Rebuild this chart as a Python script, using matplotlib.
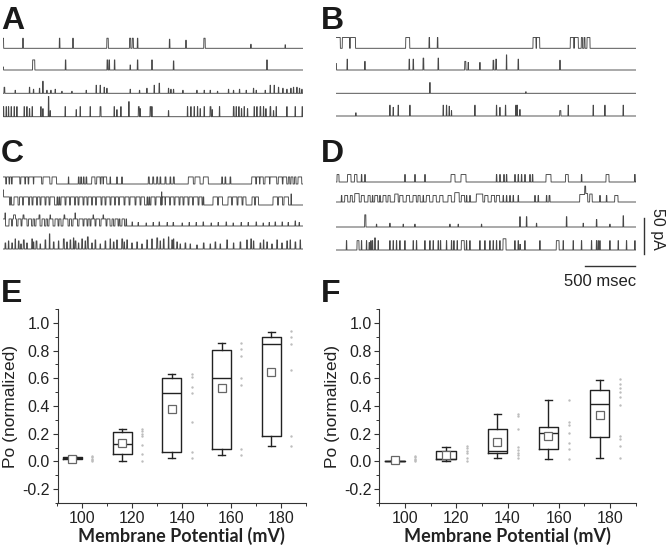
import numpy as np
import matplotlib
matplotlib.use("Agg")
import matplotlib.pyplot as plt
from matplotlib.ticker import MultipleLocator

W, H = 666, 552
plt.rcParams['font.family'] = ['Liberation Sans', 'DejaVu Sans']

# ---------------- single-channel traces: events as (start ms, duration ms, amplitude in unit openings)
A1 = [(0, 6, 1), (197, 6, 1), (563, 6, 1), (697, 6, 1), (1038, 15, 1), (1265, 12, 1), (1292, 12, 1),
      (1343, 6, 1), (1663, 6, 0.9), (1827, 6, 0.8), (2008, 14, 1), (2477, 5, 0.4), (2820, 5, 0.35)]
A2 = [(0, 5, 0.3), (296, 22, 1), (623, 6, 1), (1040, 8, 1), (1060, 6, 1), (1113, 6, 1), (1270, 5, 0.5),
      (1343, 6, 1), (1487, 6, 1), (1703, 6, 0.9), (2637, 6, 1)]
A3 = [(10, 8, 0.6), (120, 5, 0.3), (263, 5, 0.6), (303, 5, 0.4), (363, 5, 0.5), (397, 5, 1.2), (437, 5, 0.3),
      (477, 5, 0.3), (520, 5, 0.4), (587, 5, 0.2), (687, 5, 0.2), (830, 5, 0.3), (930, 5, 0.8), (970, 5, 0.8),
      (1010, 5, 0.6), (1037, 5, 0.5), (1270, 5, 0.4), (1363, 5, 0.3), (1437, 5, 0.5), (1510, 5, 0.8),
      (1560, 6, 1.0), (1653, 5, 0.5), (1677, 5, 0.4), (1703, 5, 0.4), (1797, 5, 0.3), (1937, 5, 0.3),
      (2010, 5, 0.3), (2070, 5, 0.3), (2143, 5, 0.2), (2253, 5, 0.4), (2303, 5, 0.3), (2363, 5, 0.4),
      (2430, 5, 0.3), (2503, 5, 0.5), (2530, 5, 0.3), (2620, 5, 0.3), (2670, 5, 0.8), (2710, 5, 0.8),
      (2753, 5, 0.6), (2797, 5, 0.5), (2837, 5, 0.4), (2877, 5, 0.5), (2903, 5, 0.6), (2937, 5, 0.6),
      (2963, 5, 0.5), (2987, 5, 0.4)]
A4 = [(3, 5, 1), (30, 5, 1), (53, 5, 1), (80, 5, 1), (110, 5, 1), (137, 5, 1), (210, 5, 1), (237, 5, 1),
      (263, 5, 0.8), (290, 5, 1), (377, 5, 1), (397, 5, 0.8), (453, 6, 2), (470, 5, 0.6), (620, 5, 1),
      (730, 5, 0.7), (770, 5, 1), (870, 5, 1), (970, 10, 1), (1110, 5, 1), (1137, 5, 0.7), (1177, 5, 1),
      (1257, 5, 1.5), (1353, 10, 1), (1370, 5, 0.8), (1470, 10, 1), (1487, 5, 1), (1653, 5, 0.6),
      (1843, 5, 1), (1877, 5, 1), (1910, 5, 1), (1943, 5, 1), (1970, 5, 0.8), (2010, 5, 1), (2070, 10, 1),
      (2090, 5, 0.7), (2163, 5, 1), (2303, 8, 1), (2330, 5, 1), (2357, 5, 1), (2383, 5, 0.8), (2410, 5, 1),
      (2443, 5, 0.8), (2510, 5, 1), (2537, 5, 1), (2570, 8, 1), (2603, 5, 1), (2627, 5, 0.8), (2670, 8, 1),
      (2703, 5, 0.6), (2730, 5, 1), (2837, 5, 1), (2920, 5, 1), (2990, 5, 1)]

B1 = [(0, 43, 1), (63, 73, 1), (143, 52, 1), (697, 40, 1), (930, 6, 1), (1013, 6, 1), (1970, 30, 1),
      (2005, 32, 1), (2343, 35, 1), (2383, 40, 1), (2453, 12, 1), (2480, 10, 1), (2510, 30, 1)]
B2 = [(0, 5, 0.6), (110, 5, 1), (287, 5, 0.8), (730, 6, 1), (770, 6, 1), (870, 8, 1.1), (1020, 6, 1.1),
      (1287, 12, 0.8), (1320, 5, 0.7), (1437, 5, 0.7), (1570, 8, 0.9), (1597, 8, 1), (1703, 5, 1.4),
      (1820, 6, 1), (2237, 6, 0.9)]
B3 = [(937, 5, 1.0), (1897, 4, 0.15)]
B4 = [(197, 4, 0.3), (537, 5, 1), (570, 5, 0.8), (620, 5, 1), (737, 5, 1), (1070, 5, 1), (1103, 5, 1),
      (1130, 5, 0.9), (1153, 4, 0.5), (1387, 5, 1), (1603, 5, 1), (1637, 5, 0.8), (1693, 5, 1), (1797, 5, 1),
      (1810, 5, 1), (1837, 5, 0.6), (2237, 12, 0.5), (2320, 5, 1), (2570, 5, 1), (2687, 5, 1), (2870, 5, 1)]

C1 = [(0, 27, 0.7), (35, 25, 0.7), (67, 18, 0.7), (92, 76, 0.7), (178, 40, 0.7), (225, 26, 0.7), (258, 45, 0.7),
      (308, 78, 0.7), (400, 68, 0.7), (490, 45, 0.7), (653, 5, 0.7), (753, 8, 0.7), (777, 8, 0.7),
      (803, 8, 0.7), (830, 8, 0.7), (887, 33, 0.7), (937, 35, 0.7), (980, 20, 0.7), (1005, 32, 0.7),
      (1070, 6, 0.7), (1137, 6, 0.7), (1187, 6, 0.7), (1453, 10, 0.7), (1497, 10, 0.7), (1537, 10, 0.7),
      (1570, 8, 0.7), (1620, 10, 0.7), (1670, 8, 0.7), (1703, 10, 0.7), (1853, 50, 0.7), (1920, 50, 0.7),
      (2003, 50, 0.7), (2187, 8, 0.7), (2220, 8, 0.7), (2270, 8, 0.7), (2487, 40, 0.7), (2535, 30, 0.7),
      (2570, 33, 0.7), (2620, 45, 0.7), (2670, 67, 0.7), (2753, 40, 0.7), (2800, 37, 0.7), (2853, 15, 0.7),
      (2880, 20, 0.7), (2915, 15, 0.7), (2950, 37, 0.7)]
C2 = [(0, 5, 1.5), (5, 60, 0.8), (75, 10, 0.8), (110, 40, 0.8), (165, 30, 0.8), (205, 50, 0.8), (265, 25, 0.8),
      (300, 35, 0.8), (345, 25, 0.8), (380, 40, 0.8), (430, 30, 0.8), (470, 45, 0.8), (540, 8, 0.8),
      (560, 8, 0.8), (580, 40, 0.8), (630, 35, 0.8), (675, 40, 0.8), (725, 25, 0.8), (760, 40, 0.8),
      (810, 30, 0.8), (850, 35, 0.8), (895, 30, 0.8), (935, 45, 0.8), (990, 30, 0.8), (1030, 40, 0.8),
      (1080, 35, 0.8), (1125, 30, 0.8), (1165, 45, 0.8), (1220, 40, 0.8), (1270, 50, 0.8), (1330, 40, 0.8),
      (1380, 35, 0.8), (1440, 8, 0.8), (1460, 8, 0.8), (1480, 40, 0.8), (1530, 45, 0.8), (1585, 4, 1.3),
      (1590, 30, 0.8), (1625, 40, 0.8), (1675, 35, 0.8), (1720, 40, 0.8), (1770, 30, 0.8), (1810, 40, 0.8),
      (1860, 35, 0.8), (1905, 45, 0.8), (1960, 30, 0.8), (2000, 8, 0.8), (2100, 45, 0.8), (2155, 40, 0.8),
      (2250, 35, 0.8), (2295, 45, 0.8), (2350, 40, 0.8), (2400, 30, 0.8), (2490, 25, 0.8), (2525, 30, 0.8),
      (2700, 45, 0.8), (2755, 40, 0.8), (2810, 45, 0.8), (2880, 4, 1.1)]
C3 = [(0, 25, 0.7), (20, 4, 0.6), (60, 25, 0.7), (95, 40, 0.7), (105, 20, 0.4), (150, 30, 0.7), (190, 50, 0.7),
      (200, 10, 0.4), (255, 30, 0.7), (300, 15, 0.7), (330, 40, 0.7), (360, 10, 0.4), (390, 25, 0.7),
      (430, 15, 0.7), (460, 40, 0.7), (470, 5, 0.4), (520, 30, 0.7), (560, 20, 0.7), (600, 50, 0.7),
      (610, 8, 0.4), (665, 20, 0.7), (700, 45, 0.7), (720, 4, 0.6), (760, 40, 0.7), (810, 30, 0.7),
      (850, 20, 0.7), (880, 40, 0.7), (900, 6, 0.4), (930, 35, 0.7), (980, 50, 0.7), (1000, 6, 0.4),
      (1040, 30, 0.7), (1090, 15, 0.7), (1120, 30, 0.7), (1160, 10, 0.7), (1190, 25, 0.7), (1230, 6, 0.7),
      (1290, 5, 0.4), (1350, 5, 0.35), (1430, 5, 0.3), (1500, 5, 0.35), (1560, 6, 0.4), (1640, 5, 0.35),
      (1700, 6, 0.35), (1790, 5, 0.3), (1860, 5, 0.35), (1930, 5, 0.35), (2000, 6, 0.4), (2080, 5, 0.3),
      (2150, 5, 0.35), (2230, 6, 0.4), (2300, 5, 0.3), (2380, 5, 0.35), (2450, 5, 0.35), (2530, 6, 0.4),
      (2600, 5, 0.3), (2660, 5, 0.35), (2720, 6, 0.4), (2790, 5, 0.4), (2850, 5, 0.35), (2920, 6, 0.5),
      (2960, 5, 0.35)]
C4 = [(20, 8, 0.6), (53, 6, 0.8), (87, 8, 0.6), (120, 6, 1), (153, 8, 0.8), (177, 6, 0.5), (203, 10, 0.9),
      (237, 6, 0.6), (287, 8, 1), (303, 6, 0.7), (330, 10, 0.8), (370, 6, 0.5), (420, 8, 0.9), (463, 6, 1.5),
      (503, 8, 0.7), (553, 6, 0.8), (603, 10, 1), (637, 6, 0.7), (670, 8, 0.9), (703, 6, 1.1), (720, 10, 0.8),
      (753, 6, 0.6), (787, 8, 1), (820, 6, 0.8), (843, 10, 1.2), (887, 6, 0.6), (920, 8, 0.9), (970, 6, 0.5),
      (1020, 8, 0.8), (1070, 6, 1), (1103, 8, 0.7), (1137, 6, 0.9), (1187, 10, 1), (1210, 6, 0.7),
      (1237, 8, 0.9), (1287, 6, 0.6), (1337, 8, 0.7), (1387, 6, 0.5), (1437, 8, 0.9), (1487, 6, 1),
      (1537, 10, 1.1), (1570, 6, 0.8), (1603, 8, 1), (1653, 6, 1.2), (1687, 8, 0.9), (1703, 6, 1),
      (1737, 8, 0.7), (1770, 6, 0.5), (1820, 8, 0.6), (1870, 6, 0.5), (1937, 6, 0.4), (2003, 8, 0.6),
      (2070, 6, 0.5), (2120, 8, 0.7), (2170, 6, 0.5), (2237, 8, 0.9), (2303, 6, 0.6), (2370, 8, 0.7),
      (2437, 6, 0.9), (2477, 8, 1), (2503, 6, 0.8), (2570, 8, 0.6), (2603, 6, 0.9), (2637, 8, 0.7),
      (2687, 6, 0.5), (2737, 8, 0.9), (2787, 6, 0.6), (2837, 8, 0.8), (2870, 6, 0.9), (2920, 8, 0.7),
      (2970, 6, 0.9)]

D1 = [(10, 20, 0.8), (115, 35, 0.8), (185, 25, 0.8), (253, 6, 0.8), (287, 6, 0.8), (687, 6, 0.8), (787, 6, 0.8),
      (887, 6, 0.8), (1150, 40, 0.8), (1250, 50, 0.8), (1603, 6, 0.8), (1637, 6, 0.8), (1677, 6, 0.8),
      (1703, 6, 0.8), (1787, 6, 0.8), (1820, 6, 0.8), (1853, 6, 0.8), (1887, 6, 0.8), (1937, 6, 0.8),
      (1963, 6, 0.8), (2100, 50, 0.8), (2295, 28, 0.8), (2453, 6, 0.8), (2700, 30, 0.8), (2985, 8, 0.8)]
D2 = [(53, 6, 0.7), (87, 30, 0.7), (143, 20, 0.7), (187, 45, 0.9), (253, 30, 0.7), (320, 22, 0.7), (363, 6, 0.7),
      (387, 30, 0.7), (437, 6, 0.7), (470, 30, 0.7), (520, 22, 0.7), (587, 35, 0.85), (637, 33, 0.7),
      (703, 33, 0.7), (770, 33, 0.7), (820, 22, 0.7), (870, 6, 0.7), (903, 33, 0.7), (970, 33, 0.7),
      (1037, 33, 0.7), (1120, 33, 0.7), (1187, 45, 1.0), (1253, 33, 0.7), (1303, 6, 0.7), (1337, 6, 0.7),
      (1403, 65, 0.85), (1487, 33, 0.7), (1553, 33, 0.7), (1603, 33, 0.7), (1670, 6, 0.7), (1703, 6, 0.7),
      (1737, 6, 0.7), (1770, 6, 0.7), (1820, 6, 0.7), (1987, 6, 0.7), (2020, 6, 0.7), (2103, 6, 0.7),
      (2130, 10, 0.7), (2437, 60, 0.8), (2487, 30, 0.9), (2537, 25, 0.85), (2637, 6, 0.7), (2703, 6, 0.7),
      (2787, 33, 0.7)]
D3 = [(287, 12, 1.3), (403, 5, 0.3), (537, 5, 0.4), (670, 5, 0.3), (787, 5, 0.3), (1137, 5, 0.3), (1220, 5, 0.3),
      (1453, 5, 0.3), (1837, 6, 1.1), (1903, 6, 1.1), (2003, 5, 0.4), (2303, 6, 1.1), (2470, 5, 0.4),
      (2603, 6, 0.8), (2737, 5, 0.3), (2870, 6, 1.2)]
D4 = [(103, 5, 1), (210, 20, 1), (253, 5, 1), (303, 5, 1), (330, 5, 0.8), (347, 5, 1), (363, 5, 1), (387, 6, 1.3),
      (420, 5, 1), (537, 5, 1), (570, 5, 1), (603, 5, 1), (637, 5, 1), (687, 5, 1), (770, 5, 1), (803, 5, 1),
      (887, 5, 1), (937, 5, 1), (970, 5, 1), (1020, 5, 1), (1043, 5, 1), (1103, 5, 1), (1153, 5, 1),
      (1177, 5, 1), (1210, 5, 1), (1253, 30, 1), (1303, 5, 1), (1337, 5, 1), (1437, 5, 1), (1487, 5, 1),
      (1537, 5, 1), (1570, 5, 1), (1603, 5, 1), (1637, 5, 1), (1670, 30, 1.2), (1787, 5, 1), (1820, 5, 1),
      (1837, 8, 0.6), (1887, 5, 1), (2037, 5, 1), (2203, 28, 1), (2270, 5, 1), (2370, 5, 1), (2453, 5, 1),
      (2553, 5, 1), (2603, 5, 1), (2620, 5, 1), (2637, 5, 1), (2737, 5, 1), (2820, 5, 1), (2903, 5, 1),
      (2987, 5, 1)]

# ---------------- Po box plot data (normalized)
voltages = [100, 120, 140, 160, 180]
E_stats = [  # q1, median, q3, whislo, whishi, mean
    (0.017, 0.024, 0.032, 0.015, 0.04, 0.018),
    (0.053, 0.125, 0.21, 0.003, 0.237, 0.136),
    (0.065, 0.497, 0.605, 0.022, 0.631, 0.378),
    (0.089, 0.602, 0.806, 0.046, 0.856, 0.53),
    (0.184, 0.849, 0.899, 0.108, 0.935, 0.648),
]
E_points = [
    [0.0, 0.01, 0.02, 0.03, 0.04],
    [0.237, 0.22, 0.20, 0.184, 0.122, 0.055, 0.003],
    [0.634, 0.609, 0.538, 0.495, 0.287, 0.065, 0.022],
    [0.856, 0.808, 0.76, 0.605, 0.552, 0.089, 0.046],
    [0.94, 0.90, 0.849, 0.657, 0.184, 0.108],
]
F_stats = [
    (0.0, 0.002, 0.005, 0.0, 0.01, 0.012),
    (0.016, 0.02, 0.077, 0.001, 0.106, 0.047),
    (0.059, 0.073, 0.231, 0.025, 0.34, 0.14),
    (0.087, 0.202, 0.252, 0.018, 0.441, 0.185),
    (0.173, 0.412, 0.513, 0.027, 0.591, 0.336),
]
F_points = [
    [0.0, 0.01, 0.02, 0.03, 0.04],
    [0.111, 0.095, 0.077, 0.063, 0.023, 0.006],
    [0.345, 0.331, 0.231, 0.102, 0.082, 0.063, 0.044, 0.025],
    [0.441, 0.281, 0.262, 0.207, 0.13, 0.087, 0.018],
    [0.597, 0.56, 0.53, 0.50, 0.465, 0.41, 0.183, 0.163, 0.11, 0.027],
]

fig = plt.figure(figsize=(W / 100, H / 100), dpi=100)


def px_axes(x0, y0, x1, y1):
    return fig.add_axes([x0 / W, 1 - y1 / H, (x1 - x0) / W, (y1 - y0) / H])


PA_PER_PX = 50 / 36.0
t = np.arange(0, 3001, 1.0)


def draw_traces(ax, traces, baselines_px, y_bottom, unit_pa):
    for ev, base in zip(traces, baselines_px):
        y = np.zeros_like(t)
        for s, d, a in ev:
            y[(t >= s) & (t < s + d)] += a
        off = (y_bottom - base) * PA_PER_PX
        ax.plot(t, off + y * unit_pa, color='#484848', lw=0.65)


panels = [
    ('A', (3, 30, 303, 125), [A1, A2, A3, A4], [48.3, 70, 93.3, 116.7], 14),
    ('B', (336, 30, 636, 125), [B1, B2, B3, B4], [48.3, 70, 93.3, 116], 15),
    ('C', (3, 165, 303, 260), [C1, C2, C3, C4], [184, 205, 226, 249], 14),
    ('D', (336, 165, 636, 260), [D1, D2, D3, D4], [182, 202, 227, 250], 13),
]
trace_axes = {}
for name, (x0, y0, x1, y1), trs, bases, unit in panels:
    ax = px_axes(x0, y0, x1, y1)
    draw_traces(ax, trs, bases, y1, unit)
    ax.set_xlim(0, 3000)
    ax.set_ylim(0, (y1 - y0) * PA_PER_PX)
    ax.axis('off')
    trace_axes[name] = ax

# scale bars on panel D
axd = trace_axes['D']
bar_y = (260 - 266) * PA_PER_PX
axd.plot([2490, 2990], [bar_y, bar_y], color='#333333', lw=1, clip_on=False)
axd.plot([3080, 3080], [(260 - 254) * PA_PER_PX, (260 - 254) * PA_PER_PX + 50], color='#333333', lw=1,
         clip_on=False)
fig.text(657 / W, 1 - 229 / H, '50 pA', rotation=270, ha='center', va='center', fontsize=11.5, color='#222222')
fig.text(600 / W, 1 - 281 / H, '500 msec', ha='center', va='center', fontsize=12, color='#222222')


def box_panel(ax, stats, points):
    bs = []
    for (q1, med, q3, lo, hi, mean) in stats:
        bs.append(dict(q1=q1, med=med, q3=q3, whislo=lo, whishi=hi, mean=mean, fliers=[]))
    pos = [v - 4 for v in voltages]
    ax.bxp(bs, positions=pos, widths=7.6, showmeans=True, showfliers=False, capwidths=2.8,
           boxprops=dict(color='#222222', lw=1),
           medianprops=dict(color='#222222', lw=1),
           whiskerprops=dict(color='#222222', lw=1),
           capprops=dict(color='#222222', lw=1),
           meanprops=dict(marker='s', markerfacecolor='white', markeredgecolor='#666666', markersize=6,
                          markeredgewidth=0.9))
    for v, pts in zip(voltages, points):
        ax.scatter([v + 4] * len(pts), pts, s=3, color='#bdbdbd', zorder=3, linewidths=0)
    ax.set_xlim(90, 190)
    ax.set_ylim(-0.3, 1.1)
    ax.xaxis.set_minor_locator(MultipleLocator(10))
    ax.set_xticks(voltages)
    ax.set_xticklabels([str(v) for v in voltages])
    ax.set_yticks([-0.2, 0.0, 0.2, 0.4, 0.6, 0.8, 1.0])
    ax.set_yticklabels(['-0.2', '0.0', '0.2', '0.4', '0.6', '0.8', '1.0'])
    ax.yaxis.set_minor_locator(MultipleLocator(0.1))
    for s in ['top', 'right']:
        ax.spines[s].set_visible(False)
    for s in ['left', 'bottom']:
        ax.spines[s].set_color('#333333')
        ax.spines[s].set_linewidth(0.8)
    ax.tick_params(which='major', direction='out', length=3.5, width=0.8, color='#333333', labelsize=11.5,
                   pad=2, labelcolor='#222222')
    ax.tick_params(which='minor', direction='out', length=2, width=0.7, color='#333333')
    ax.set_ylabel('Po (normalized)', fontsize=12.5, color='#222222', labelpad=3)
    ax.set_xlabel('Membrane Potential (mV)', fontsize=13, fontweight='bold', family=['Lato', 'DejaVu Sans'],
                  color='#222222', labelpad=1)


axE = px_axes(57.5, 309, 306, 503)
box_panel(axE, E_stats, E_points)
axF = px_axes(379.5, 309, 635.5, 503)
box_panel(axF, F_stats, F_points)

for letter, x, y in [('A', 1, 6), ('B', 321, 6), ('C', 1, 139), ('D', 321, 139), ('E', 1, 279), ('F', 321, 279)]:
    fig.text(x / W, 1 - y / H, letter, fontsize=23, fontweight='bold', ha='left', va='top', color='#1a1a1a')

fig.savefig('out.png', dpi=100)
